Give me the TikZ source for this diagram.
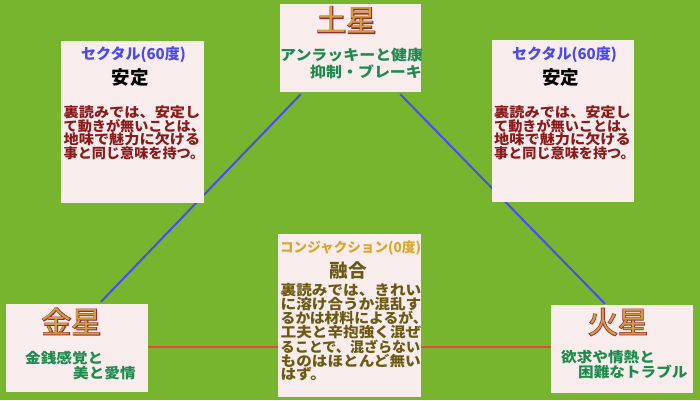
\documentclass[tikz,border=0pt]{standalone}
\usepackage{fontspec}
\usepackage{graphicx}
\setmainfont{Noto Sans CJK JP}
\newfontfamily\jpw[FakeStretch=1.1]{Noto Sans CJK JP}
\newfontfamily\planetbold[FakeBold=4.5]{Noto Sans CJK JP}
\usetikzlibrary{calc}
\pgfdeclarelayer{bg}
\pgfsetlayers{bg,main}
\definecolor{bggreen}{HTML}{77B52F}
\definecolor{boxfill}{HTML}{F8ECEC}
\definecolor{titleblue}{HTML}{4A4AF0}
\definecolor{bodyred}{HTML}{8B1A1A}
\definecolor{textgreen}{HTML}{1E8B4E}
\definecolor{titlegold}{HTML}{D9A828}
\definecolor{olive}{HTML}{6B5A12}
\definecolor{lineblue}{HTML}{4B4BF5}
\definecolor{linered}{HTML}{E8463F}
\definecolor{planetred}{HTML}{962838}
\definecolor{planetgold}{HTML}{D0A040}
\newcommand\planetname[1]{\rlap{\color{planetred}\planetbold #1}{\color{planetgold}#1}}
\newcommand\sqz[2]{\scalebox{#1}[1]{#2}}
\tikzset{
  card/.style={fill=boxfill, draw=none, inner sep=0pt},
  bluelink/.style={draw=lineblue, line width=2pt},
  redlink/.style={draw=linered, line width=2pt},
  planettxt/.style={inner sep=0pt, font=\fontsize{30}{30}\selectfont},
  sextitle/.style={inner sep=0pt, text=titleblue, font=\fontsize{15}{15}\selectfont\bfseries},
  aspname/.style={inner sep=0pt, text=black, font=\fontsize{18.5}{18.5}\selectfont\bfseries},
  bodytxt/.style={inner sep=0pt, anchor=north west, align=left, text=bodyred, font=\jpw\fontsize{13.8}{13.4}\selectfont\bfseries},
  greentxt/.style={inner sep=0pt, anchor=west, text=textgreen, font=\jpw\fontsize{14.2}{14.2}\selectfont\bfseries},
}
\begin{document}
\begin{tikzpicture}[x=1pt,y=-1pt]
\useasboundingbox (0,0) rectangle (700,400);
\begin{pgfonlayer}{bg}
\fill[bggreen] (0,0) rectangle (700,400);
\end{pgfonlayer}
% boxes
\node[card, minimum width=141pt, minimum height=88pt] (sat) at (350.5,48) {};
\node[card, minimum width=143pt, minimum height=162pt] (sexL) at (132.5,122) {};
\node[card, minimum width=142pt, minimum height=162pt] (sexR) at (563,121) {};
\node[card, minimum width=143pt, minimum height=163pt] (conj) at (349.5,315.5) {};
\node[card, minimum width=142pt, minimum height=88pt] (ven) at (77,348) {};
\node[card, minimum width=142pt, minimum height=88pt] (mar) at (622,349) {};
% connectors
\begin{pgfonlayer}{bg}
\draw[bluelink] ([xshift=21pt,yshift=-2pt]sat.south west) -- ([xshift=24pt,yshift=2pt]ven.north);
\draw[bluelink] ([xshift=-21pt,yshift=-2pt]sat.south east) -- ([xshift=-17pt,yshift=1pt]mar.north);
\draw[redlink] ([yshift=1pt]ven.east) -- ([yshift=1pt]ven.east -| mar.west);
\end{pgfonlayer}
% Saturn
\node[planettxt] (satname) at (346.5,20) {\planetname{土星}};
\begin{scope}
\clip (sat.north west) rectangle (sat.south east);
\node[greentxt, font=\jpw\fontsize{14.5}{14.5}\selectfont\bfseries] (satl1) at (280,55.5) {アンラッキーと健康};
\node[greentxt, font=\jpw\fontsize{14.5}{14.5}\selectfont\bfseries] (satl2) at (310,71.5) {抑制・ブレーキ};
\end{scope}
% left sextile
\node[sextitle] (sexLt) at (133.5,54.5) {セクタル(60度)};
\node[aspname] (sexLn) at (130,78) {安定};
\node[bodytxt] (sexLb) at (63.5,105) {裏読みでは、安定し\\\sqz{0.93}{て動きが無いことは、}\\地味で魅力に欠ける\\\sqz{0.93}{事と同じ意味を持つ。}};
% right sextile
\node[sextitle] (sexRt) at (564.5,54.5) {セクタル(60度)};
\node[aspname] (sexRn) at (560.5,78) {安定};
\node[bodytxt] (sexRb) at (494,105) {裏読みでは、安定し\\\sqz{0.93}{て動きが無いことは、}\\地味で魅力に欠ける\\\sqz{0.93}{事と同じ意味を持つ。}};
% conjunction
\node[inner sep=0pt, text=titlegold, font=\fontsize{13.6}{13.6}\selectfont\bfseries] (conjt) at (350.5,248) {コンジャクション(0度)};
\node[aspname, text=olive] (conjn) at (348,270.5) {融合};
\begin{scope}
\clip (conj.north west) rectangle (conj.south east);
\node[bodytxt, text=olive, font=\jpw\fontsize{14.2}{13.7}\selectfont\bfseries] (conjb) at (280.5,283) {裏読みでは、きれい\\に溶け合うか混乱す\\\sqz{0.95}{るかは材料によるが、}\\工夫と辛抱強く混ぜ\\\sqz{0.9}{ることで、混ざらない}\\ものはほとんど無い\\はず。};
\end{scope}
% Venus
\node[planettxt] (venname) at (71.5,321.5) {\planetname{金星}};
\node[greentxt] (venl1) at (25,358.5) {金銭感覚と};
\node[greentxt] (venl2) at (73,373.5) {美と愛情};
% Mars
\node[planettxt] (marname) at (618,322) {\planetname{火星}};
\node[greentxt] (marl1) at (561,356.7) {欲求や情熱と};
\node[greentxt] (marl2) at (578,371.7) {困難なトラブル};
\end{tikzpicture}
\end{document}
